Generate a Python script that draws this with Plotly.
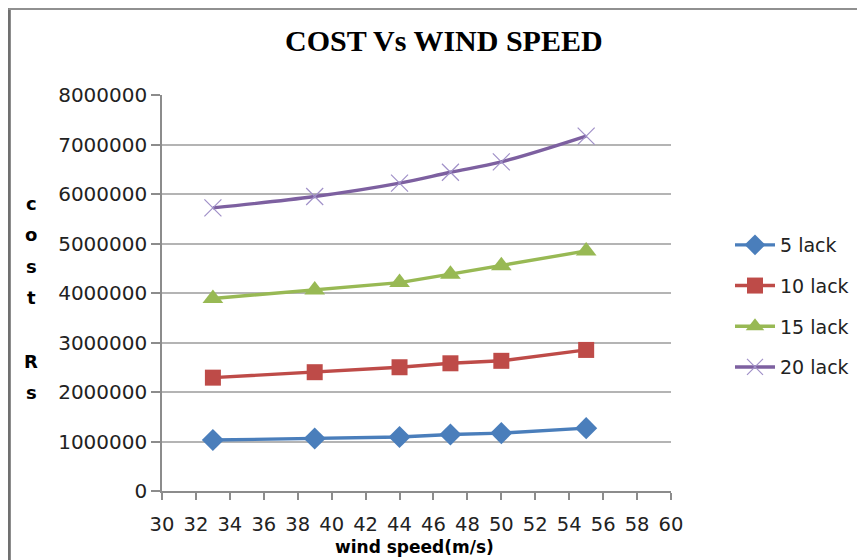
import plotly.graph_objects as go

wind_speed = [33, 39, 44, 47, 50, 55]
cost_5_lack = [1030000, 1060000, 1090000, 1140000, 1170000, 1270000]
cost_10_lack = [2290000, 2400000, 2500000, 2580000, 2630000, 2850000]
cost_15_lack = [3890000, 4060000, 4210000, 4380000, 4550000, 4850000]
cost_20_lack = [5720000, 5950000, 6220000, 6440000, 6650000, 7170000]

series_names = ["5 lack", "10 lack", "15 lack", "20 lack"]
x_ticks = list(range(30, 61, 2))
y_ticks = list(range(0, 8000001, 1000000))
y_label_letters = ["c", "o", "s", "t", "", "R", "s"]

# page body has an 8px margin; work in screen pixels and shift
OFF = 8
W, H = 865 - OFF, 560 - OFF
L, R, T, B = 162, 672, 95, 491   # screen pixels of plot area

fig = go.Figure()

styles = [
    (cost_5_lack, "#4A7EBB", "diamond", 17, "linear", None),
    (cost_10_lack, "#BE4B48", "square", 16, "linear", None),
    (cost_15_lack, "#98B954", "triangle-up", 18, "linear", None),
    (cost_20_lack, "#7D60A0", "x-thin-open", 17, "spline", "#A090C8"),
]
for (vals, col, sym, sz, shape, mcol), name in zip(styles, series_names):
    marker = dict(symbol=sym, size=sz, color=col)
    if mcol:
        marker = dict(symbol=sym, size=sz, color=mcol, line=dict(color=mcol, width=1.2))
    fig.add_trace(go.Scatter(
        x=wind_speed, y=vals, name=name, mode="lines+markers",
        line=dict(color=col, width=3.4, shape=shape),
        marker=marker, legendgroup=name,
    ))

pw, ph = R - L, B - T
def px_x(p):
    return (p - L) / pw
def px_y(p):
    return (B - p) / ph

annotations = [
    dict(text="<b>COST Vs WIND SPEED</b>", x=px_x(445), y=px_y(40), xref="paper", yref="paper",
         showarrow=False, font=dict(family="Liberation Serif", size=30, color="black"),
         xanchor="center", yanchor="middle"),
    dict(text="<b>wind speed(m/s)</b>", x=px_x(415), y=px_y(547), xref="paper", yref="paper",
         showarrow=False, font=dict(family="DejaVu Sans", size=17, color="black"),
         xanchor="center", yanchor="middle"),
]
letter_top = 203
letter_gap = 31.6
for i, ch in enumerate(y_label_letters):
    if ch:
        annotations.append(dict(text="<b>" + ch + "</b>", x=px_x(31), y=px_y(letter_top + i * letter_gap),
                                xref="paper", yref="paper", showarrow=False,
                                font=dict(family="DejaVu Sans", size=18, color="black"),
                                xanchor="center", yanchor="middle"))

shapes = [
    dict(type="line", xref="paper", yref="paper", x0=px_x(9), x1=px_x(9), y0=px_y(8), y1=px_y(560),
         line=dict(color="#707070", width=3)),
    dict(type="line", xref="paper", yref="paper", x0=px_x(8), x1=px_x(865), y0=px_y(9), y1=px_y(9),
         line=dict(color="#909090", width=2)),
]

fig.update_layout(
    width=W, height=H,
    margin=dict(l=L - OFF, r=(W + OFF) - R, t=T - OFF, b=(H + OFF) - B, pad=0),
    paper_bgcolor="white", plot_bgcolor="white",
    showlegend=True,
    legend=dict(x=px_x(730), y=px_y(226), xanchor="left", yanchor="top",
                font=dict(family="DejaVu Sans", size=19, color="#222"),
                tracegroupgap=13, itemwidth=40, bgcolor="rgba(0,0,0,0)"),
    annotations=annotations,
    shapes=shapes,
    font=dict(family="DejaVu Sans", color="#222"),
)
fig.update_xaxes(range=[30, 60], tickvals=x_ticks, ticktext=[str(v) for v in x_ticks],
                 showgrid=False, showline=True, linecolor="#8c8c8c", linewidth=1.5,
                 ticks="outside", ticklen=7, tickcolor="#8c8c8c", tickwidth=1.5,
                 ticklabelstandoff=8,
                 tickfont=dict(family="DejaVu Sans", size=19.5, color="#222"), zeroline=False)
fig.update_yaxes(range=[0, 8000000], tickvals=y_ticks, ticktext=[str(v) for v in y_ticks],
                 showgrid=True, gridcolor="#b4b4b4", gridwidth=1.5,
                 showline=True, linecolor="#8c8c8c", linewidth=1.5,
                 ticks="outside", ticklen=9, tickcolor="#8c8c8c", tickwidth=1.5,
                 tickfont=dict(family="DejaVu Sans", size=20, color="#222"), zeroline=False)

fig.write_html("out.html")
